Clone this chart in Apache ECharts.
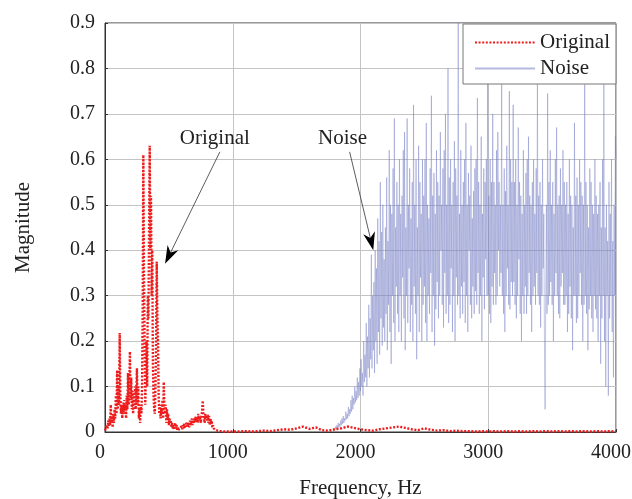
<!DOCTYPE html>
<html>
<head>
<meta charset="utf-8">
<script src="https://cdn.jsdelivr.net/npm/echarts@6/dist/echarts.min.js"></script>
<style>
  html, body { margin: 0; padding: 0; background: #fff; }
  #chart { width: 632px; height: 499px; }
</style>
</head>
<body>
<div id="chart"></div>
<script>
// original spectrum, 0..1000 Hz every 5 Hz
var origLowFreqStart = 0, origLowStep = 5;
var origLow = [
  0.003, 0.008, 0.004, 0.015, 0.006, 0.025, 0.012, 0.03, 0.015, 0.06,
  0.02, 0.035, 0.01, 0.04, 0.02, 0.05, 0.03, 0.08, 0.04, 0.136,
  0.05, 0.1, 0.06, 0.218, 0.08, 0.04, 0.06, 0.03, 0.065, 0.04,
  0.07, 0.05, 0.06, 0.03, 0.08, 0.05, 0.13, 0.06, 0.1, 0.177,
  0.07, 0.12, 0.05, 0.09, 0.04, 0.08, 0.06, 0.1, 0.05, 0.09,
  0.14, 0.06, 0.1, 0.03, 0.05, 0.02, 0.06, 0.04, 0.1, 0.26,
  0.61, 0.35, 0.2, 0.06, 0.12, 0.2, 0.1, 0.3, 0.25, 0.45,
  0.63, 0.4, 0.52, 0.3, 0.4, 0.15, 0.08, 0.05, 0.04, 0.1,
  0.2, 0.375, 0.25, 0.2, 0.08, 0.04, 0.06, 0.03, 0.05, 0.04,
  0.07, 0.03, 0.11, 0.05, 0.04, 0.06, 0.02, 0.05, 0.03, 0.04,
  0.015, 0.03, 0.02, 0.025, 0.01, 0.02, 0.008, 0.015, 0.005, 0.012,
  0.02, 0.008, 0.015, 0.005, 0.01, 0.003, 0.008, 0.004, 0.01, 0.005,
  0.012, 0.006, 0.015, 0.008, 0.02, 0.01, 0.015, 0.012, 0.02, 0.01,
  0.015, 0.02, 0.01, 0.025, 0.015, 0.02, 0.03, 0.015, 0.025, 0.02,
  0.03, 0.02, 0.035, 0.025, 0.03, 0.02, 0.04, 0.025, 0.035, 0.03,
  0.02, 0.035, 0.045, 0.069, 0.04, 0.03, 0.02, 0.04, 0.03, 0.038,
  0.025, 0.038, 0.02, 0.035, 0.015, 0.03, 0.02, 0.025, 0.01, 0.015,
  0.008, 0.012, 0.005, 0.01, 0.004, 0.008, 0.003, 0.006, 0.002, 0.005,
  0.003, 0.004, 0.002, 0.003, 0.001, 0.002, 0.001, 0.002, 0.001, 0.002,
  0.001, 0.002, 0.001, 0.002, 0.001, 0.002, 0.001, 0.002, 0.001, 0.002,
  0.001
];
// original spectrum, 1050..4000 Hz every 50 Hz
var origHighFreqStart = 1050, origHighStep = 50;
var origHigh = [
  0.001, 0.002, 0.001, 0.002, 0.003, 0.002, 0.004, 0.006, 0.005, 0.008,
  0.012, 0.007, 0.01, 0.004, 0.003, 0.006, 0.008, 0.012, 0.009, 0.006,
  0.004, 0.003, 0.006, 0.008, 0.01, 0.012, 0.009, 0.006, 0.004, 0.008,
  0.005, 0.003, 0.004, 0.002, 0.003, 0.002, 0.002, 0.001, 0.002, 0.001,
  0.002, 0.001, 0.002, 0.001, 0.002, 0.001, 0.002, 0.001, 0.002, 0.001,
  0.002, 0.001, 0.002, 0.001, 0.002, 0.001, 0.002, 0.001, 0.002, 0.001
];
// noise spectrum, 1800..4000 Hz every 5 Hz (one row = 100 Hz)
var noiseFreqStart = 1800, noiseStep = 5;
var noise = [
  0.005, 0.012, 0.006, 0.015, 0.008, 0.02, 0.01, 0.018, 0.012, 0.025, 0.015, 0.03, 0.018, 0.035, 0.02, 0.03, 0.025, 0.045, 0.028, 0.04,
  0.03, 0.055, 0.035, 0.05, 0.04, 0.07, 0.045, 0.08, 0.05, 0.075, 0.06, 0.1, 0.065, 0.09, 0.07, 0.12, 0.075, 0.11, 0.08, 0.14,
  0.09, 0.16, 0.1, 0.13, 0.08, 0.2, 0.11, 0.17, 0.12, 0.24, 0.1, 0.21, 0.14, 0.28, 0.12, 0.25, 0.16, 0.39, 0.14, 0.3,
  0.18, 0.33, 0.13, 0.4, 0.2, 0.36, 0.15, 0.47, 0.22, 0.42, 0.17, 0.55, 0.25, 0.44, 0.19, 0.5, 0.23, 0.38, 0.2, 0.45,
  0.26, 0.56, 0.18, 0.42, 0.28, 0.62, 0.22, 0.5, 0.15, 0.48, 0.3, 0.58, 0.24, 0.69, 0.2, 0.45, 0.32, 0.55, 0.26, 0.5,
  0.22, 0.6, 0.3, 0.48, 0.2, 0.52, 0.34, 0.62, 0.25, 0.66, 0.18, 0.45, 0.3, 0.69, 0.24, 0.5, 0.36, 0.58, 0.22, 0.47,
  0.28, 0.55, 0.2, 0.72, 0.32, 0.5, 0.26, 0.6, 0.16, 0.45, 0.3, 0.63, 0.22, 0.55, 0.34, 0.48, 0.2, 0.6, 0.28, 0.52,
  0.32, 0.6, 0.24, 0.68, 0.2, 0.5, 0.3, 0.47, 0.26, 0.58, 0.35, 0.74, 0.22, 0.52, 0.3, 0.57, 0.19, 0.48, 0.27, 0.62,
  0.33, 0.55, 0.25, 0.52, 0.3, 0.66, 0.4, 0.5, 0.28, 0.58, 0.23, 0.62, 0.35, 0.7, 0.26, 0.5, 0.3, 0.8, 0.24, 0.56,
  0.28, 0.6, 0.36, 0.5, 0.22, 0.55, 0.3, 0.64, 0.2, 0.58, 0.34, 0.52, 0.28, 0.92, 0.3, 0.48, 0.25, 0.62, 0.32, 0.5,
  0.26, 0.55, 0.33, 0.6, 0.24, 0.68, 0.3, 0.5, 0.22, 0.57, 0.4, 0.52, 0.28, 0.63, 0.25, 0.47, 0.32, 0.53, 0.26, 0.58,
  0.31, 0.6, 0.28, 0.735, 0.35, 0.55, 0.26, 0.5, 0.3, 0.65, 0.2, 0.48, 0.34, 0.58, 0.27, 0.55, 0.38, 0.6, 0.3, 0.8,
  0.3, 0.52, 0.26, 0.6, 0.24, 0.55, 0.32, 0.7, 0.28, 0.55, 0.35, 0.5, 0.28, 0.62, 0.3, 0.66, 0.4, 0.55, 0.32, 0.5,
  0.35, 0.765, 0.3, 0.5, 0.26, 0.58, 0.22, 0.53, 0.3, 0.63, 0.36, 0.5, 0.28, 0.75, 0.27, 0.6, 0.33, 0.55, 0.3, 0.72,
  0.33, 0.55, 0.28, 0.6, 0.25, 0.5, 0.3, 0.67, 0.38, 0.55, 0.26, 0.52, 0.2, 0.48, 0.3, 0.62, 0.26, 0.5, 0.32, 0.57,
  0.26, 0.6, 0.3, 0.65, 0.35, 0.52, 0.28, 0.5, 0.22, 0.55, 0.3, 0.6, 0.32, 0.48, 0.28, 0.58, 0.35, 0.765, 0.3, 0.52,
  0.28, 0.55, 0.23, 0.5, 0.3, 0.6, 0.36, 0.48, 0.2, 0.05, 0.3, 0.5, 0.26, 0.745, 0.28, 0.55, 0.3, 0.62, 0.33, 0.5,
  0.28, 0.55, 0.2, 0.48, 0.3, 0.6, 0.35, 0.67, 0.3, 0.5, 0.26, 0.52, 0.25, 0.58, 0.32, 0.5, 0.35, 0.62, 0.28, 0.55,
  0.28, 0.5, 0.3, 0.55, 0.22, 0.48, 0.26, 0.6, 0.32, 0.52, 0.25, 0.5, 0.18, 0.45, 0.3, 0.68, 0.3, 0.52, 0.24, 0.56,
  0.25, 0.5, 0.3, 0.6, 0.35, 0.55, 0.28, 0.52, 0.2, 0.5, 0.28, 0.765, 0.3, 0.55, 0.26, 0.5, 0.18, 0.45, 0.27, 0.58,
  0.3, 0.55, 0.25, 0.5, 0.22, 0.48, 0.3, 0.6, 0.27, 0.52, 0.25, 0.48, 0.2, 0.5, 0.3, 0.55, 0.15, 0.45, 0.25, 0.6,
  0.3, 0.765, 0.2, 0.45, 0.1, 0.5, 0.3, 0.42, 0.08, 0.55, 0.25, 0.48, 0.3, 0.6, 0.22, 0.42, 0.12, 0.5, 0.3, 0.65,
  0.6
];
var seriesNames = ['Original', 'Noise'];

function pairs(start, step, vals) {
  var out = [];
  for (var i = 0; i < vals.length; i++) out.push([start + i * step, vals[i]]);
  return out;
}
var origData = pairs(origLowFreqStart, origLowStep, origLow)
  .concat(pairs(origHighFreqStart, origHighStep, origHigh));
var noiseData = pairs(noiseFreqStart, noiseStep, noise);

var FONT = '"Liberation Serif", "DejaVu Serif", serif';
var myChart = echarts.init(document.getElementById('chart'));

var option = {
  animation: false,
  backgroundColor: '#fff',
  textStyle: { fontFamily: FONT },
  grid: {
    left: 105, right: 16, top: 23, bottom: 67,
    outerBoundsMode: 'none', containLabel: false,
    show: true, borderColor: '#333', borderWidth: 1
  },
  legend: {
    data: seriesNames,
    orient: 'vertical',
    left: 463, top: 24,
    padding: [8, 6, 5, 11],
    itemGap: 5,
    itemWidth: 60, itemHeight: 12,
    backgroundColor: '#fff',
    borderColor: '#777', borderWidth: 1,
    itemStyle: { opacity: 0 },
    textStyle: { fontFamily: FONT, fontSize: 21, color: '#222' }
  },
  xAxis: {
    type: 'value', min: 0, max: 4000, interval: 1000,
    name: 'Frequency, Hz', nameLocation: 'middle', nameGap: 46,
    nameTextStyle: { fontFamily: FONT, fontSize: 21, color: '#222' },
    axisLine: { show: true, lineStyle: { color: '#333' } },
    axisTick: { show: true, inside: true, length: 3, lineStyle: { color: '#333' } },
    axisLabel: { fontFamily: FONT, fontSize: 20, color: '#222', margin: 11,
      padding: [0, 10, 0, 0],
      formatter: function (v) { return String(v); } },
    splitLine: { show: true, lineStyle: { color: '#c4c4c4', width: 1 } }
  },
  yAxis: {
    type: 'value', min: 0, max: 0.9, interval: 0.1,
    name: 'Magnitude', nameLocation: 'middle', nameGap: 71,
    nameTextStyle: { fontFamily: FONT, fontSize: 21, color: '#222' },
    axisLine: { show: true, lineStyle: { color: '#333' } },
    axisTick: { show: true, inside: true, length: 3, lineStyle: { color: '#333' } },
    axisLabel: {
      fontFamily: FONT, fontSize: 20, color: '#222', margin: 10,
      formatter: function (v) { return v === 0 ? '0' : v.toFixed(1); }
    },
    splitLine: { show: true, lineStyle: { color: '#c4c4c4', width: 1 } }
  },
  series: [
    {
      name: 'Noise', type: 'line', data: noiseData, showSymbol: false, symbol: 'none',
      z: 2, clip: true,
      itemStyle: { color: '#7c84c8' },
      lineStyle: { color: '#7880c6', width: 0.8, opacity: 0.55 }
    },
    {
      name: 'Original', type: 'line', data: origData, showSymbol: false, symbol: 'none',
      z: 3, clip: true,
      itemStyle: { color: '#ee1c1c' },
      lineStyle: { color: '#ee1c1c', width: 2.4, type: [2, 1.6] }
    }
  ]
};
myChart.setOption(option, true);

// annotation arrows, anchored on data coordinates
function arrow(fromPx, tipPx) {
  var dx = tipPx[0] - fromPx[0], dy = tipPx[1] - fromPx[1];
  var len = Math.sqrt(dx * dx + dy * dy), ux = dx / len, uy = dy / len;
  var headL = 18, headW = 6;
  var bx = tipPx[0] - ux * headL, by = tipPx[1] - uy * headL;
  var mx = tipPx[0] - ux * headL * 0.7, my = tipPx[1] - uy * headL * 0.7;
  return [
    { type: 'line', shape: { x1: fromPx[0], y1: fromPx[1], x2: mx, y2: my },
      style: { stroke: '#333', lineWidth: 0.8 }, z: 10 },
    { type: 'polygon', shape: { points: [
        [tipPx[0], tipPx[1]],
        [bx - uy * headW, by + ux * headW],
        [mx, my],
        [bx + uy * headW, by - ux * headW]
      ] }, style: { fill: '#000' }, z: 10 }
  ];
}
var p = function (x, y) { return myChart.convertToPixel({ gridIndex: 0 }, [x, y]); };
var origText = p(860, 0.645), origTip = p(470, 0.37);
var noiseText = p(1860, 0.645), noiseTip = p(2100, 0.4);
var g = [
  { type: 'text', x: origText[0], y: origText[1], z: 10,
    style: { text: 'Original', font: '21px ' + FONT, fill: '#222', textAlign: 'center', textVerticalAlign: 'middle' } },
  { type: 'text', x: noiseText[0], y: noiseText[1], z: 10,
    style: { text: 'Noise', font: '21px ' + FONT, fill: '#222', textAlign: 'center', textVerticalAlign: 'middle' } }
];
g = g.concat(arrow([origText[0] + 5, origText[1] + 13], origTip));
g = g.concat(arrow([noiseText[0] + 7, noiseText[1] + 13], noiseTip));
myChart.setOption({ graphic: g });

window.onresize = function () { myChart.resize(); };
</script>
</body>
</html>
